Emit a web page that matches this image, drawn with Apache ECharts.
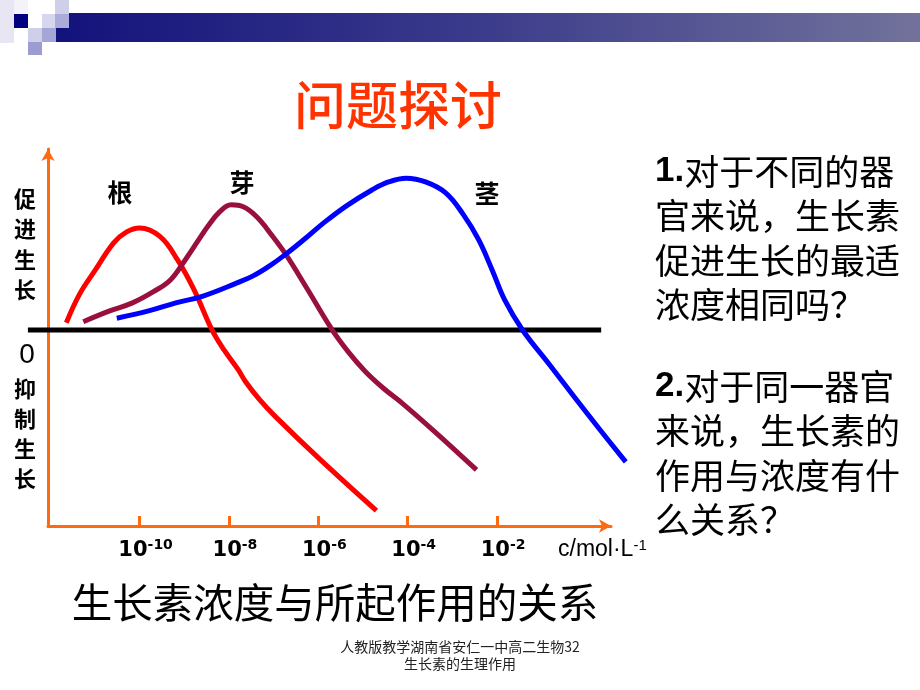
<!DOCTYPE html>
<html>
<head>
<meta charset="utf-8">
<script src="https://cdn.jsdelivr.net/npm/echarts@6.0.0/dist/echarts.min.js"></script>
<style>
html,body{margin:0;padding:0;background:#fff;}
#chart{width:920px;height:690px;}
</style>
</head>
<body>
<div id="chart"></div>
<script>
// x: log10 of concentration (mol/L); y: relative growth effect (+ promote, - inhibit)
const tickExponents = [-10, -8, -6, -4, -2];
const seriesNames = ['根', '芽', '茎'];
const rootData = [[-11.64,3.7],[-11.34,18.4],[-10.99,30.6],[-10.58,44.4],[-10.29,50.0],[-10,52.0],[-9.54,47.6],[-9.15,35.7],[-8.78,20.4],[-8.38,0],[-8.11,-10.2],[-7.79,-20.4],[-7.64,-26.0],[-7.31,-35.7],[-6.96,-44.2],[-5.95,-66.3],[-4.70,-92.2]];
const budData = [[-11.26,4.2],[-10.67,9.7],[-10.16,13.8],[-9.70,19.4],[-9.31,25.5],[-8.98,35.7],[-8.68,45.9],[-8.48,52.6],[-8.21,60.2],[-7.95,63.8],[-7.68,62.8],[-7.38,57.7],[-7.03,48.0],[-6.72,38.3],[-6.26,21.4],[-5.69,0],[-5.33,-11.2],[-4.96,-20.9],[-4.55,-29.6],[-4.10,-37.8],[-3.36,-52.6],[-2.46,-71.4]];
const stemData = [[-10.51,6.0],[-9.80,9.7],[-9.19,13.8],[-8.58,17.3],[-7.82,24.0],[-7.46,27.6],[-7.09,32.7],[-6.72,38.8],[-6.28,46.9],[-5.88,54.6],[-5.37,63.3],[-4.80,71.4],[-4.43,75.5],[-4.03,77.4],[-3.60,75.5],[-3.15,69.9],[-2.75,58.7],[-2.41,45.9],[-2.11,30.6],[-1.83,15.3],[-1.43,0],[-0.82,-17.9],[-0.27,-34.2],[0.29,-50.5],[0.88,-67.3]];
const zeroLine = [[-12.5,0],[0.33,0]];

const ORANGE = '#FF6A10';
const CJK = '"Noto Sans CJK SC", sans-serif';

// axis scale: -12.05..0.55 over 563 px  => 44.683 px per unit
const PX = 563 / 12.6;
const X_MIN = -12.05, X_MAX = 0.55, Y_MIN = -100, Y_MAX = 92.3;
const P_MIN = -12.5, P_MAX = 1.0; // wider plotting extent so marks may run past the axes

const chart = echarts.init(document.getElementById('chart'), null, {renderer:'canvas'});

function curve(name, data, color) {
  return {
    name: name, type: 'line', data: data, smooth: 0.4, symbol: 'none', clip: false,
    xAxisIndex: 1, yAxisIndex: 1,
    lineStyle: {color: color, width: 5}, z: 3, silent: true
  };
}

const option = {
  backgroundColor: '#ffffff',
  animation: false,
  grid: [
    {left: 48, right: 309, top: 149, bottom: 164},
    {left: 48 + (P_MIN - X_MIN) * PX, width: (P_MAX - P_MIN) * PX, top: 149, bottom: 164}
  ],
  xAxis: [{
    type: 'value', min: X_MIN, max: X_MAX, gridIndex: 0,
    axisLine: {show: true, onZero: false, symbol: ['none','arrow'], symbolSize: [10,12],
      lineStyle: {color: ORANGE, width: 3}},
    splitLine: {show: false},
    axisTick: {show: true, customValues: tickExponents, inside: true, length: 10,
      lineStyle: {color: ORANGE, width: 3}},
    axisLabel: {
      show: true, customValues: tickExponents, margin: 12, padding: [0,0,0,12],
      formatter: function (v) { return '{b|10}{s|' + v + '}'; },
      rich: {
        b: {fontFamily: '"DejaVu Sans", sans-serif', fontWeight: 'bold', fontSize: 21, lineHeight: 26, color: '#000'},
        s: {fontFamily: '"DejaVu Sans", sans-serif', fontWeight: 'bold', fontSize: 14, lineHeight: 14, color: '#000', verticalAlign: 'top'}
      }
    }
  }, {
    type: 'value', min: P_MIN, max: P_MAX, gridIndex: 1, show: false, splitLine: {show: false}
  }],
  yAxis: [{
    type: 'value', min: Y_MIN, max: Y_MAX, gridIndex: 0,
    axisLine: {show: true, onZero: false, symbol: ['none','arrow'], symbolSize: [10,12],
      lineStyle: {color: ORANGE, width: 3}},
    axisTick: {show: false}, axisLabel: {show: false}, splitLine: {show: false}
  }, {
    type: 'value', min: Y_MIN, max: Y_MAX, gridIndex: 1, show: false, splitLine: {show: false}
  }],
  series: [
    {name: 'zero', type: 'line', data: zeroLine, symbol: 'none', clip: false, silent: true,
      xAxisIndex: 1, yAxisIndex: 1, lineStyle: {color: '#000', width: 5}, z: 2},
    curve(seriesNames[0], rootData, '#FF0000'),
    curve(seriesNames[1], budData, '#99103F'),
    curve(seriesNames[2], stemData, '#0000FF')
  ],
  graphic: [
    // header decoration
    {type:'rect', shape:{x:55,y:13,width:865,height:29}, style:{fill:{type:'linear',x:0,y:0,x2:1,y2:0,
      colorStops:[{offset:0,color:'#12127c'},{offset:0.5,color:'#3c3c8c'},{offset:1,color:'#72729c'}]}}},
    {type:'rect', shape:{x:0,y:0,width:14,height:43}, style:{fill:'#e8e6f3'}},
    {type:'rect', shape:{x:14,y:0,width:14,height:14}, style:{fill:'#f4f3fa'}},
    {type:'rect', shape:{x:14,y:14,width:14,height:14}, style:{fill:'#000080'}},
    {type:'rect', shape:{x:28,y:28,width:14,height:14}, style:{fill:'#cfcfe9'}},
    {type:'rect', shape:{x:28,y:42,width:14,height:13}, style:{fill:'#9c9cd2'}},
    {type:'rect', shape:{x:42,y:14,width:14,height:14}, style:{fill:'#d6d6ee'}},
    {type:'rect', shape:{x:42,y:28,width:14,height:14}, style:{fill:'#a6a6d6'}},
    {type:'rect', shape:{x:55,y:0,width:14,height:14}, style:{fill:'#cfcfe9'}},
    {type:'rect', shape:{x:55,y:14,width:14,height:14}, style:{fill:'#acacda'}},
    // title
    {type:'text', x:398, y:105, style:{text:'问题探讨', font:'500 52px ' + CJK, fill:'#FF3300', align:'center', verticalAlign:'middle'}},
    // curve labels
    {type:'text', x:120, y:192, style:{text:seriesNames[0], font:'bold 25px ' + CJK, fill:'#000', align:'center', verticalAlign:'middle'}},
    {type:'text', x:242, y:182, style:{text:seriesNames[1], font:'bold 25px ' + CJK, fill:'#000', align:'center', verticalAlign:'middle'}},
    {type:'text', x:487, y:193, style:{text:seriesNames[2], font:'bold 25px ' + CJK, fill:'#000', align:'center', verticalAlign:'middle'}},
    // y labels
    {type:'text', x:25, y:183, style:{text:'促\n进\n生\n长', font:'bold 22px ' + CJK, lineHeight:30.5, fill:'#000', align:'center', verticalAlign:'top'}},
    {type:'text', x:27, y:355, style:{text:'0', font:'28px "Liberation Sans", sans-serif', fill:'#000', align:'center', verticalAlign:'middle'}},
    {type:'text', x:25, y:373, style:{text:'抑\n制\n生\n长', font:'bold 22px ' + CJK, lineHeight:30.3, fill:'#000', align:'center', verticalAlign:'top'}},
    // x axis name
    {type:'text', x:558, y:538, style:{text:'{n|c/mol·L}{s|-1}', align:'left', verticalAlign:'top',
      rich:{n:{font:'23px "Liberation Sans", sans-serif', fill:'#000', lineHeight:24},
            s:{font:'15px "Liberation Sans", sans-serif', fill:'#000', lineHeight:14, verticalAlign:'top'}}}},
    // right-hand questions
    {type:'text', x:655, y:149, style:{text:'{b|1.}对于不同的器\n官来说，生长素\n促进生长的最适\n浓度相同吗？',
      font:'35px ' + CJK, lineHeight:44.5, fill:'#000', align:'left', verticalAlign:'top',
      rich:{b:{font:'bold 35px "Liberation Sans", sans-serif', lineHeight:44.5, fill:'#000'}}}},
    {type:'text', x:655, y:364, style:{text:'{b|2.}对于同一器官\n来说，生长素的\n作用与浓度有什\n么关系？',
      font:'35px ' + CJK, lineHeight:44.5, fill:'#000', align:'left', verticalAlign:'top',
      rich:{b:{font:'bold 35px "Liberation Sans", sans-serif', lineHeight:44.5, fill:'#000'}}}},
    // caption
    {type:'text', x:335, y:603, style:{text:'生长素浓度与所起作用的关系', font:'40.5px ' + CJK, fill:'#000', align:'center', verticalAlign:'middle'}},
    // footer
    {type:'text', x:460, y:647, style:{text:'人教版教学湖南省安仁一中高二生物32', font:'14px ' + CJK, fill:'#222', align:'center', verticalAlign:'middle'}},
    {type:'text', x:460, y:664, style:{text:'生长素的生理作用', font:'14px ' + CJK, fill:'#222', align:'center', verticalAlign:'middle'}}
  ]
};
chart.setOption(option);
</script>
</body>
</html>
